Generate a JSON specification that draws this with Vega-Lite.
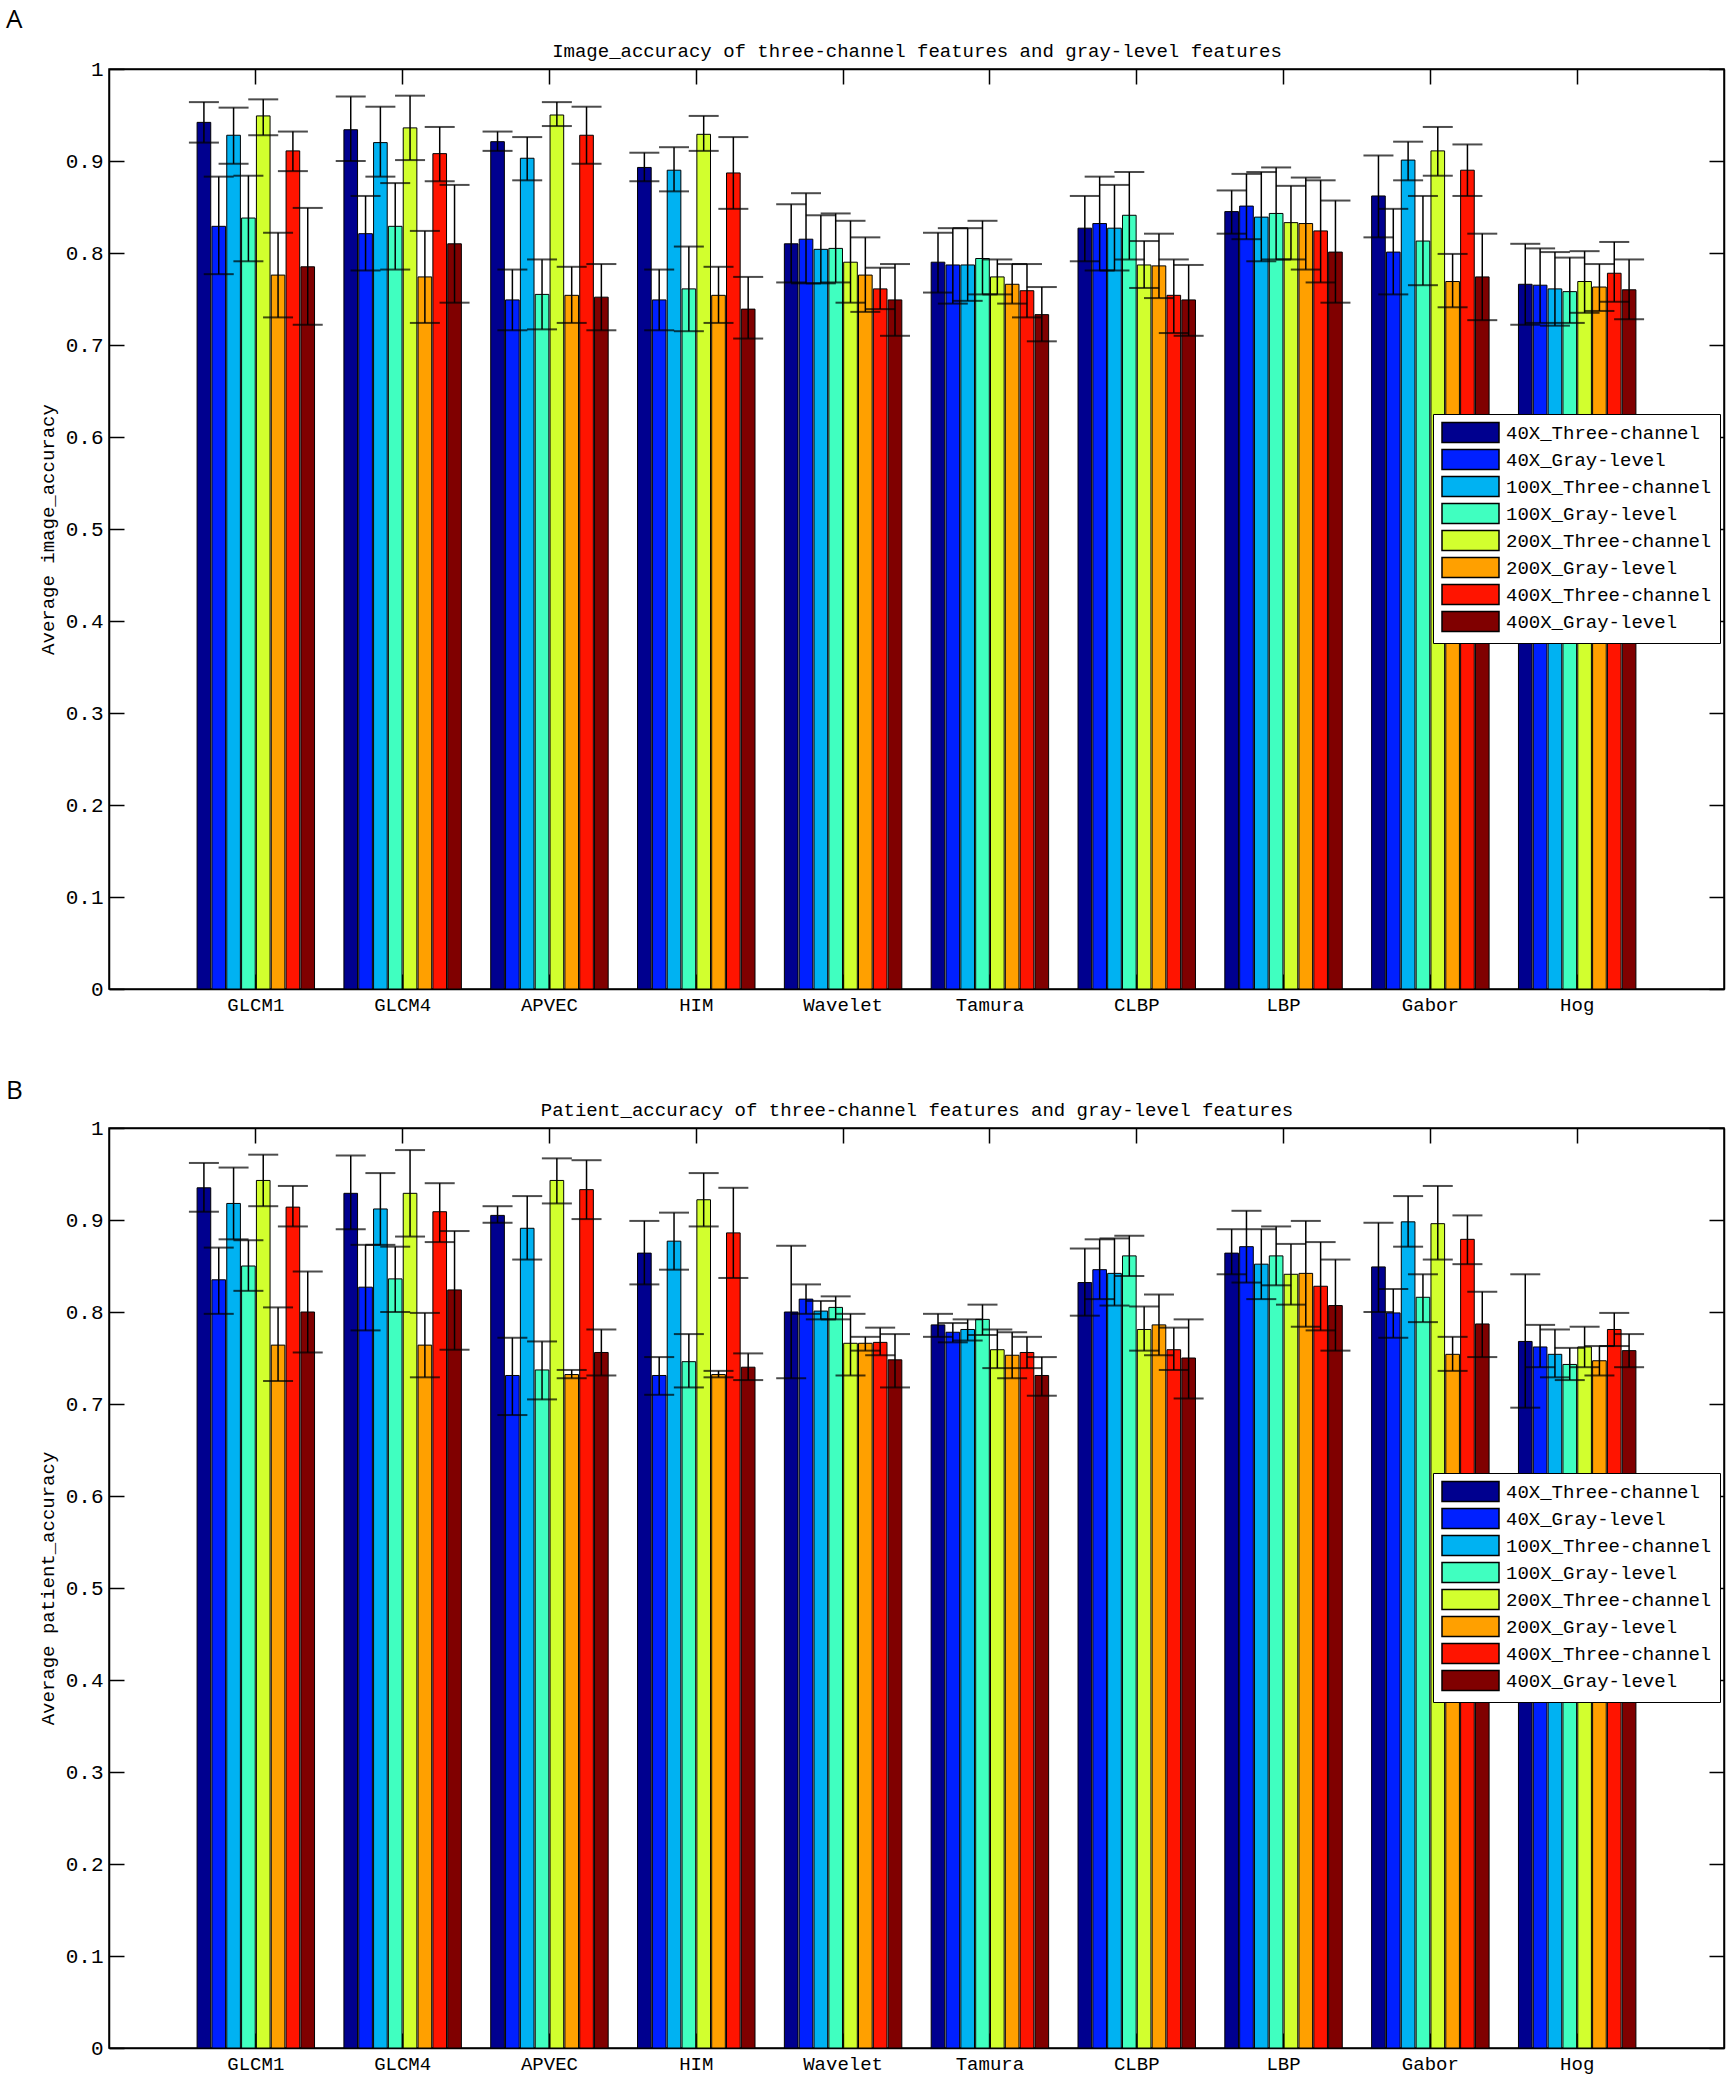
{
  "$schema": "https://vega.github.io/schema/vega-lite/v6.json",
  "background": "white",
  "padding": {"left": 5, "top": 6, "right": 0, "bottom": 0},
  "datasets": {
    "image": [
      {"feature": "GLCM1", "series": "40X_Three-channel", "acc": 0.942, "lo": 0.920, "hi": 0.964},
      {"feature": "GLCM1", "series": "40X_Gray-level", "acc": 0.829, "lo": 0.777, "hi": 0.883},
      {"feature": "GLCM1", "series": "100X_Three-channel", "acc": 0.928, "lo": 0.897, "hi": 0.958},
      {"feature": "GLCM1", "series": "100X_Gray-level", "acc": 0.838, "lo": 0.791, "hi": 0.884},
      {"feature": "GLCM1", "series": "200X_Three-channel", "acc": 0.949, "lo": 0.928, "hi": 0.967},
      {"feature": "GLCM1", "series": "200X_Gray-level", "acc": 0.776, "lo": 0.730, "hi": 0.822},
      {"feature": "GLCM1", "series": "400X_Three-channel", "acc": 0.911, "lo": 0.889, "hi": 0.932},
      {"feature": "GLCM1", "series": "400X_Gray-level", "acc": 0.785, "lo": 0.722, "hi": 0.849},
      {"feature": "GLCM4", "series": "40X_Three-channel", "acc": 0.934, "lo": 0.900, "hi": 0.970},
      {"feature": "GLCM4", "series": "40X_Gray-level", "acc": 0.821, "lo": 0.781, "hi": 0.862},
      {"feature": "GLCM4", "series": "100X_Three-channel", "acc": 0.920, "lo": 0.883, "hi": 0.959},
      {"feature": "GLCM4", "series": "100X_Gray-level", "acc": 0.829, "lo": 0.782, "hi": 0.876},
      {"feature": "GLCM4", "series": "200X_Three-channel", "acc": 0.936, "lo": 0.901, "hi": 0.971},
      {"feature": "GLCM4", "series": "200X_Gray-level", "acc": 0.774, "lo": 0.724, "hi": 0.824},
      {"feature": "GLCM4", "series": "400X_Three-channel", "acc": 0.908, "lo": 0.878, "hi": 0.937},
      {"feature": "GLCM4", "series": "400X_Gray-level", "acc": 0.810, "lo": 0.746, "hi": 0.874},
      {"feature": "APVEC", "series": "40X_Three-channel", "acc": 0.921, "lo": 0.911, "hi": 0.932},
      {"feature": "APVEC", "series": "40X_Gray-level", "acc": 0.749, "lo": 0.716, "hi": 0.782},
      {"feature": "APVEC", "series": "100X_Three-channel", "acc": 0.903, "lo": 0.879, "hi": 0.926},
      {"feature": "APVEC", "series": "100X_Gray-level", "acc": 0.755, "lo": 0.717, "hi": 0.793},
      {"feature": "APVEC", "series": "200X_Three-channel", "acc": 0.950, "lo": 0.938, "hi": 0.964},
      {"feature": "APVEC", "series": "200X_Gray-level", "acc": 0.754, "lo": 0.724, "hi": 0.785},
      {"feature": "APVEC", "series": "400X_Three-channel", "acc": 0.928, "lo": 0.897, "hi": 0.959},
      {"feature": "APVEC", "series": "400X_Gray-level", "acc": 0.752, "lo": 0.716, "hi": 0.788},
      {"feature": "HIM", "series": "40X_Three-channel", "acc": 0.893, "lo": 0.878, "hi": 0.909},
      {"feature": "HIM", "series": "40X_Gray-level", "acc": 0.749, "lo": 0.716, "hi": 0.782},
      {"feature": "HIM", "series": "100X_Three-channel", "acc": 0.890, "lo": 0.867, "hi": 0.915},
      {"feature": "HIM", "series": "100X_Gray-level", "acc": 0.761, "lo": 0.715, "hi": 0.807},
      {"feature": "HIM", "series": "200X_Three-channel", "acc": 0.929, "lo": 0.911, "hi": 0.949},
      {"feature": "HIM", "series": "200X_Gray-level", "acc": 0.754, "lo": 0.724, "hi": 0.785},
      {"feature": "HIM", "series": "400X_Three-channel", "acc": 0.887, "lo": 0.848, "hi": 0.926},
      {"feature": "HIM", "series": "400X_Gray-level", "acc": 0.739, "lo": 0.707, "hi": 0.774},
      {"feature": "Wavelet", "series": "40X_Three-channel", "acc": 0.810, "lo": 0.768, "hi": 0.853},
      {"feature": "Wavelet", "series": "40X_Gray-level", "acc": 0.815, "lo": 0.767, "hi": 0.865},
      {"feature": "Wavelet", "series": "100X_Three-channel", "acc": 0.804, "lo": 0.767, "hi": 0.841},
      {"feature": "Wavelet", "series": "100X_Gray-level", "acc": 0.805, "lo": 0.768, "hi": 0.843},
      {"feature": "Wavelet", "series": "200X_Three-channel", "acc": 0.790, "lo": 0.746, "hi": 0.835},
      {"feature": "Wavelet", "series": "200X_Gray-level", "acc": 0.776, "lo": 0.736, "hi": 0.817},
      {"feature": "Wavelet", "series": "400X_Three-channel", "acc": 0.761, "lo": 0.739, "hi": 0.784},
      {"feature": "Wavelet", "series": "400X_Gray-level", "acc": 0.749, "lo": 0.710, "hi": 0.788},
      {"feature": "Tamura", "series": "40X_Three-channel", "acc": 0.790, "lo": 0.757, "hi": 0.822},
      {"feature": "Tamura", "series": "40X_Gray-level", "acc": 0.787, "lo": 0.745, "hi": 0.827},
      {"feature": "Tamura", "series": "100X_Three-channel", "acc": 0.787, "lo": 0.748, "hi": 0.827},
      {"feature": "Tamura", "series": "100X_Gray-level", "acc": 0.794, "lo": 0.755, "hi": 0.835},
      {"feature": "Tamura", "series": "200X_Three-channel", "acc": 0.774, "lo": 0.755, "hi": 0.793},
      {"feature": "Tamura", "series": "200X_Gray-level", "acc": 0.766, "lo": 0.745, "hi": 0.788},
      {"feature": "Tamura", "series": "400X_Three-channel", "acc": 0.759, "lo": 0.730, "hi": 0.788},
      {"feature": "Tamura", "series": "400X_Gray-level", "acc": 0.733, "lo": 0.704, "hi": 0.763},
      {"feature": "CLBP", "series": "40X_Three-channel", "acc": 0.827, "lo": 0.791, "hi": 0.862},
      {"feature": "CLBP", "series": "40X_Gray-level", "acc": 0.832, "lo": 0.781, "hi": 0.883},
      {"feature": "CLBP", "series": "100X_Three-channel", "acc": 0.827, "lo": 0.781, "hi": 0.874},
      {"feature": "CLBP", "series": "100X_Gray-level", "acc": 0.841, "lo": 0.793, "hi": 0.888},
      {"feature": "CLBP", "series": "200X_Three-channel", "acc": 0.787, "lo": 0.762, "hi": 0.813},
      {"feature": "CLBP", "series": "200X_Gray-level", "acc": 0.786, "lo": 0.751, "hi": 0.821},
      {"feature": "CLBP", "series": "400X_Three-channel", "acc": 0.754, "lo": 0.713, "hi": 0.793},
      {"feature": "CLBP", "series": "400X_Gray-level", "acc": 0.749, "lo": 0.710, "hi": 0.787},
      {"feature": "LBP", "series": "40X_Three-channel", "acc": 0.845, "lo": 0.821, "hi": 0.868},
      {"feature": "LBP", "series": "40X_Gray-level", "acc": 0.851, "lo": 0.815, "hi": 0.886},
      {"feature": "LBP", "series": "100X_Three-channel", "acc": 0.839, "lo": 0.791, "hi": 0.888},
      {"feature": "LBP", "series": "100X_Gray-level", "acc": 0.843, "lo": 0.793, "hi": 0.893},
      {"feature": "LBP", "series": "200X_Three-channel", "acc": 0.833, "lo": 0.793, "hi": 0.873},
      {"feature": "LBP", "series": "200X_Gray-level", "acc": 0.832, "lo": 0.782, "hi": 0.882},
      {"feature": "LBP", "series": "400X_Three-channel", "acc": 0.824, "lo": 0.768, "hi": 0.879},
      {"feature": "LBP", "series": "400X_Gray-level", "acc": 0.801, "lo": 0.746, "hi": 0.857},
      {"feature": "Gabor", "series": "40X_Three-channel", "acc": 0.862, "lo": 0.817, "hi": 0.906},
      {"feature": "Gabor", "series": "40X_Gray-level", "acc": 0.801, "lo": 0.755, "hi": 0.848},
      {"feature": "Gabor", "series": "100X_Three-channel", "acc": 0.901, "lo": 0.879, "hi": 0.921},
      {"feature": "Gabor", "series": "100X_Gray-level", "acc": 0.813, "lo": 0.765, "hi": 0.862},
      {"feature": "Gabor", "series": "200X_Three-channel", "acc": 0.911, "lo": 0.884, "hi": 0.937},
      {"feature": "Gabor", "series": "200X_Gray-level", "acc": 0.769, "lo": 0.741, "hi": 0.799},
      {"feature": "Gabor", "series": "400X_Three-channel", "acc": 0.890, "lo": 0.862, "hi": 0.918},
      {"feature": "Gabor", "series": "400X_Gray-level", "acc": 0.774, "lo": 0.727, "hi": 0.821},
      {"feature": "Hog", "series": "40X_Three-channel", "acc": 0.766, "lo": 0.722, "hi": 0.810},
      {"feature": "Hog", "series": "40X_Gray-level", "acc": 0.765, "lo": 0.724, "hi": 0.805},
      {"feature": "Hog", "series": "100X_Three-channel", "acc": 0.761, "lo": 0.721, "hi": 0.801},
      {"feature": "Hog", "series": "100X_Gray-level", "acc": 0.758, "lo": 0.724, "hi": 0.795},
      {"feature": "Hog", "series": "200X_Three-channel", "acc": 0.769, "lo": 0.735, "hi": 0.802},
      {"feature": "Hog", "series": "200X_Gray-level", "acc": 0.763, "lo": 0.737, "hi": 0.788},
      {"feature": "Hog", "series": "400X_Three-channel", "acc": 0.778, "lo": 0.747, "hi": 0.812},
      {"feature": "Hog", "series": "400X_Gray-level", "acc": 0.760, "lo": 0.728, "hi": 0.793}
    ],
    "patient": [
      {"feature": "GLCM1", "series": "40X_Three-channel", "acc": 0.935, "lo": 0.909, "hi": 0.962},
      {"feature": "GLCM1", "series": "40X_Gray-level", "acc": 0.835, "lo": 0.798, "hi": 0.870},
      {"feature": "GLCM1", "series": "100X_Three-channel", "acc": 0.918, "lo": 0.879, "hi": 0.957},
      {"feature": "GLCM1", "series": "100X_Gray-level", "acc": 0.850, "lo": 0.823, "hi": 0.878},
      {"feature": "GLCM1", "series": "200X_Three-channel", "acc": 0.943, "lo": 0.915, "hi": 0.971},
      {"feature": "GLCM1", "series": "200X_Gray-level", "acc": 0.764, "lo": 0.725, "hi": 0.805},
      {"feature": "GLCM1", "series": "400X_Three-channel", "acc": 0.914, "lo": 0.893, "hi": 0.937},
      {"feature": "GLCM1", "series": "400X_Gray-level", "acc": 0.800, "lo": 0.756, "hi": 0.844},
      {"feature": "GLCM4", "series": "40X_Three-channel", "acc": 0.929, "lo": 0.890, "hi": 0.970},
      {"feature": "GLCM4", "series": "40X_Gray-level", "acc": 0.827, "lo": 0.780, "hi": 0.873},
      {"feature": "GLCM4", "series": "100X_Three-channel", "acc": 0.912, "lo": 0.873, "hi": 0.951},
      {"feature": "GLCM4", "series": "100X_Gray-level", "acc": 0.836, "lo": 0.800, "hi": 0.871},
      {"feature": "GLCM4", "series": "200X_Three-channel", "acc": 0.929, "lo": 0.882, "hi": 0.976},
      {"feature": "GLCM4", "series": "200X_Gray-level", "acc": 0.764, "lo": 0.729, "hi": 0.799},
      {"feature": "GLCM4", "series": "400X_Three-channel", "acc": 0.909, "lo": 0.876, "hi": 0.940},
      {"feature": "GLCM4", "series": "400X_Gray-level", "acc": 0.824, "lo": 0.759, "hi": 0.888},
      {"feature": "APVEC", "series": "40X_Three-channel", "acc": 0.905, "lo": 0.897, "hi": 0.915},
      {"feature": "APVEC", "series": "40X_Gray-level", "acc": 0.731, "lo": 0.688, "hi": 0.772},
      {"feature": "APVEC", "series": "100X_Three-channel", "acc": 0.891, "lo": 0.857, "hi": 0.926},
      {"feature": "APVEC", "series": "100X_Gray-level", "acc": 0.737, "lo": 0.705, "hi": 0.768},
      {"feature": "APVEC", "series": "200X_Three-channel", "acc": 0.943, "lo": 0.918, "hi": 0.967},
      {"feature": "APVEC", "series": "200X_Gray-level", "acc": 0.732, "lo": 0.728, "hi": 0.737},
      {"feature": "APVEC", "series": "400X_Three-channel", "acc": 0.933, "lo": 0.901, "hi": 0.965},
      {"feature": "APVEC", "series": "400X_Gray-level", "acc": 0.756, "lo": 0.731, "hi": 0.781},
      {"feature": "HIM", "series": "40X_Three-channel", "acc": 0.864, "lo": 0.830, "hi": 0.899},
      {"feature": "HIM", "series": "40X_Gray-level", "acc": 0.731, "lo": 0.710, "hi": 0.751},
      {"feature": "HIM", "series": "100X_Three-channel", "acc": 0.877, "lo": 0.846, "hi": 0.908},
      {"feature": "HIM", "series": "100X_Gray-level", "acc": 0.746, "lo": 0.718, "hi": 0.776},
      {"feature": "HIM", "series": "200X_Three-channel", "acc": 0.922, "lo": 0.893, "hi": 0.951},
      {"feature": "HIM", "series": "200X_Gray-level", "acc": 0.732, "lo": 0.729, "hi": 0.736},
      {"feature": "HIM", "series": "400X_Three-channel", "acc": 0.886, "lo": 0.837, "hi": 0.935},
      {"feature": "HIM", "series": "400X_Gray-level", "acc": 0.740, "lo": 0.726, "hi": 0.755},
      {"feature": "Wavelet", "series": "40X_Three-channel", "acc": 0.800, "lo": 0.728, "hi": 0.872},
      {"feature": "Wavelet", "series": "40X_Gray-level", "acc": 0.814, "lo": 0.798, "hi": 0.830},
      {"feature": "Wavelet", "series": "100X_Three-channel", "acc": 0.801, "lo": 0.792, "hi": 0.812},
      {"feature": "Wavelet", "series": "100X_Gray-level", "acc": 0.805, "lo": 0.792, "hi": 0.817},
      {"feature": "Wavelet", "series": "200X_Three-channel", "acc": 0.766, "lo": 0.731, "hi": 0.798},
      {"feature": "Wavelet", "series": "200X_Gray-level", "acc": 0.766, "lo": 0.758, "hi": 0.773},
      {"feature": "Wavelet", "series": "400X_Three-channel", "acc": 0.767, "lo": 0.753, "hi": 0.783},
      {"feature": "Wavelet", "series": "400X_Gray-level", "acc": 0.748, "lo": 0.718, "hi": 0.776},
      {"feature": "Tamura", "series": "40X_Three-channel", "acc": 0.786, "lo": 0.773, "hi": 0.798},
      {"feature": "Tamura", "series": "40X_Gray-level", "acc": 0.778, "lo": 0.767, "hi": 0.788},
      {"feature": "Tamura", "series": "100X_Three-channel", "acc": 0.781, "lo": 0.769, "hi": 0.792},
      {"feature": "Tamura", "series": "100X_Gray-level", "acc": 0.792, "lo": 0.775, "hi": 0.808},
      {"feature": "Tamura", "series": "200X_Three-channel", "acc": 0.759, "lo": 0.739, "hi": 0.781},
      {"feature": "Tamura", "series": "200X_Gray-level", "acc": 0.753, "lo": 0.728, "hi": 0.778},
      {"feature": "Tamura", "series": "400X_Three-channel", "acc": 0.756, "lo": 0.739, "hi": 0.773},
      {"feature": "Tamura", "series": "400X_Gray-level", "acc": 0.731, "lo": 0.709, "hi": 0.751},
      {"feature": "CLBP", "series": "40X_Three-channel", "acc": 0.832, "lo": 0.796, "hi": 0.869},
      {"feature": "CLBP", "series": "40X_Gray-level", "acc": 0.846, "lo": 0.814, "hi": 0.879},
      {"feature": "CLBP", "series": "100X_Three-channel", "acc": 0.842, "lo": 0.807, "hi": 0.880},
      {"feature": "CLBP", "series": "100X_Gray-level", "acc": 0.861, "lo": 0.839, "hi": 0.883},
      {"feature": "CLBP", "series": "200X_Three-channel", "acc": 0.781, "lo": 0.758, "hi": 0.806},
      {"feature": "CLBP", "series": "200X_Gray-level", "acc": 0.786, "lo": 0.753, "hi": 0.819},
      {"feature": "CLBP", "series": "400X_Three-channel", "acc": 0.759, "lo": 0.737, "hi": 0.783},
      {"feature": "CLBP", "series": "400X_Gray-level", "acc": 0.750, "lo": 0.706, "hi": 0.792},
      {"feature": "LBP", "series": "40X_Three-channel", "acc": 0.864, "lo": 0.841, "hi": 0.890},
      {"feature": "LBP", "series": "40X_Gray-level", "acc": 0.871, "lo": 0.832, "hi": 0.910},
      {"feature": "LBP", "series": "100X_Three-channel", "acc": 0.852, "lo": 0.814, "hi": 0.890},
      {"feature": "LBP", "series": "100X_Gray-level", "acc": 0.861, "lo": 0.829, "hi": 0.893},
      {"feature": "LBP", "series": "200X_Three-channel", "acc": 0.841, "lo": 0.808, "hi": 0.874},
      {"feature": "LBP", "series": "200X_Gray-level", "acc": 0.842, "lo": 0.784, "hi": 0.899},
      {"feature": "LBP", "series": "400X_Three-channel", "acc": 0.828, "lo": 0.780, "hi": 0.876},
      {"feature": "LBP", "series": "400X_Gray-level", "acc": 0.807, "lo": 0.758, "hi": 0.857},
      {"feature": "Gabor", "series": "40X_Three-channel", "acc": 0.849, "lo": 0.800, "hi": 0.897},
      {"feature": "Gabor", "series": "40X_Gray-level", "acc": 0.799, "lo": 0.772, "hi": 0.825},
      {"feature": "Gabor", "series": "100X_Three-channel", "acc": 0.898, "lo": 0.871, "hi": 0.926},
      {"feature": "Gabor", "series": "100X_Gray-level", "acc": 0.816, "lo": 0.789, "hi": 0.841},
      {"feature": "Gabor", "series": "200X_Three-channel", "acc": 0.896, "lo": 0.857, "hi": 0.937},
      {"feature": "Gabor", "series": "200X_Gray-level", "acc": 0.754, "lo": 0.736, "hi": 0.773},
      {"feature": "Gabor", "series": "400X_Three-channel", "acc": 0.879, "lo": 0.852, "hi": 0.905},
      {"feature": "Gabor", "series": "400X_Gray-level", "acc": 0.787, "lo": 0.751, "hi": 0.822},
      {"feature": "Hog", "series": "40X_Three-channel", "acc": 0.768, "lo": 0.696, "hi": 0.841},
      {"feature": "Hog", "series": "40X_Gray-level", "acc": 0.762, "lo": 0.740, "hi": 0.786},
      {"feature": "Hog", "series": "100X_Three-channel", "acc": 0.754, "lo": 0.729, "hi": 0.781},
      {"feature": "Hog", "series": "100X_Gray-level", "acc": 0.743, "lo": 0.726, "hi": 0.761},
      {"feature": "Hog", "series": "200X_Three-channel", "acc": 0.762, "lo": 0.740, "hi": 0.784},
      {"feature": "Hog", "series": "200X_Gray-level", "acc": 0.747, "lo": 0.731, "hi": 0.763},
      {"feature": "Hog", "series": "400X_Three-channel", "acc": 0.781, "lo": 0.763, "hi": 0.799},
      {"feature": "Hog", "series": "400X_Gray-level", "acc": 0.758, "lo": 0.740, "hi": 0.776}
    ]
  },
  "spacing": 62,
  "resolve": {"legend": {"color": "independent"}},
  "vconcat": [
    {
      "title": {"text": "A", "anchor": "start", "frame": "group", "dx": -103, "offset": 8},
      "width": 1615,
      "height": 920,
      "data": {"name": "image"},
      "resolve": {"axis": {"x": "independent", "y": "independent"}},
      "layer": [
        {
          "mark": {"type": "bar", "stroke": "black", "strokeWidth": 1},
          "encoding": {
            "x": {"field": "feature", "type": "nominal", "sort": null,
                  "scale": {"paddingInner": 0.2, "paddingOuter": 0.6},
                  "axis": {"orient": "bottom", "title": null, "labelAngle": 0, "labelFontSize": 19, "tickSize": -15, "labelPadding": 21}},
            "xOffset": {"field": "series", "type": "nominal", "sort": null, "scale": {"paddingInner": 0.08}},
            "y": {"field": "acc", "type": "quantitative", "scale": {"domain": [0, 1]},
                  "axis": {"orient": "left", "title": "Average image_accuracy", "values": [0, 0.1, 0.2, 0.3, 0.4, 0.5, 0.6, 0.7, 0.8, 0.9, 1], "format": "~g", "labelFontSize": 21, "tickSize": -15, "labelPadding": 21, "titlePadding": 8}},
            "color": {"field": "series", "type": "nominal", "sort": null,
                      "scale": {"domain": ["40X_Three-channel", "40X_Gray-level", "100X_Three-channel", "100X_Gray-level", "200X_Three-channel", "200X_Gray-level", "400X_Three-channel", "400X_Gray-level"],
                                "range": ["#00008F", "#0020FF", "#00B2F2", "#40FFC0", "#D2FF2E", "#FFA000", "#FF1400", "#800000"]},
                      "legend": {"title": null}}
          }
        },
        {
          "mark": {"type": "rule", "color": "black", "strokeWidth": 1.5},
          "encoding": {
            "x": {"field": "feature", "type": "nominal", "sort": null,
                  "axis": {"orient": "top", "labels": false, "tickSize": -15, "title": "Image_accuracy of three-channel features and gray-level features", "titlePadding": 8}},
            "xOffset": {"field": "series", "type": "nominal", "sort": null},
            "y": {"field": "lo", "type": "quantitative",
                  "axis": {"orient": "right", "labels": false, "title": null, "values": [0, 0.1, 0.2, 0.3, 0.4, 0.5, 0.6, 0.7, 0.8, 0.9, 1], "tickSize": -15}},
            "y2": {"field": "hi"}
          }
        },
        {
          "mark": {"type": "tick", "color": "black", "orient": "horizontal", "size": 30, "thickness": 2},
          "encoding": {
            "x": {"field": "feature", "type": "nominal", "sort": null, "axis": null},
            "xOffset": {"field": "series", "type": "nominal", "sort": null},
            "y": {"field": "lo", "type": "quantitative", "axis": null}
          }
        },
        {
          "mark": {"type": "tick", "color": "black", "orient": "horizontal", "size": 30, "thickness": 2},
          "encoding": {
            "x": {"field": "feature", "type": "nominal", "sort": null, "axis": null},
            "xOffset": {"field": "series", "type": "nominal", "sort": null},
            "y": {"field": "hi", "type": "quantitative", "axis": null}
          }
        }
      ]
    },
    {
      "title": {"text": "B", "anchor": "start", "frame": "group", "dx": -103, "offset": -4},
      "width": 1615,
      "height": 920,
      "data": {"name": "patient"},
      "resolve": {"axis": {"x": "independent", "y": "independent"}},
      "layer": [
        {
          "mark": {"type": "bar", "stroke": "black", "strokeWidth": 1},
          "encoding": {
            "x": {"field": "feature", "type": "nominal", "sort": null,
                  "scale": {"paddingInner": 0.2, "paddingOuter": 0.6},
                  "axis": {"orient": "bottom", "title": null, "labelAngle": 0, "labelFontSize": 19, "tickSize": -15, "labelPadding": 21}},
            "xOffset": {"field": "series", "type": "nominal", "sort": null, "scale": {"paddingInner": 0.08}},
            "y": {"field": "acc", "type": "quantitative", "scale": {"domain": [0, 1]},
                  "axis": {"orient": "left", "title": "Average patient_accuracy", "values": [0, 0.1, 0.2, 0.3, 0.4, 0.5, 0.6, 0.7, 0.8, 0.9, 1], "format": "~g", "labelFontSize": 21, "tickSize": -15, "labelPadding": 21, "titlePadding": 8}},
            "color": {"field": "series", "type": "nominal", "sort": null,
                      "scale": {"domain": ["40X_Three-channel", "40X_Gray-level", "100X_Three-channel", "100X_Gray-level", "200X_Three-channel", "200X_Gray-level", "400X_Three-channel", "400X_Gray-level"],
                                "range": ["#00008F", "#0020FF", "#00B2F2", "#40FFC0", "#D2FF2E", "#FFA000", "#FF1400", "#800000"]},
                      "legend": {"title": null}}
          }
        },
        {
          "mark": {"type": "rule", "color": "black", "strokeWidth": 1.5},
          "encoding": {
            "x": {"field": "feature", "type": "nominal", "sort": null,
                  "axis": {"orient": "top", "labels": false, "tickSize": -15, "title": "Patient_accuracy of three-channel features and gray-level features", "titlePadding": 8}},
            "xOffset": {"field": "series", "type": "nominal", "sort": null},
            "y": {"field": "lo", "type": "quantitative",
                  "axis": {"orient": "right", "labels": false, "title": null, "values": [0, 0.1, 0.2, 0.3, 0.4, 0.5, 0.6, 0.7, 0.8, 0.9, 1], "tickSize": -15}},
            "y2": {"field": "hi"}
          }
        },
        {
          "mark": {"type": "tick", "color": "black", "orient": "horizontal", "size": 30, "thickness": 2},
          "encoding": {
            "x": {"field": "feature", "type": "nominal", "sort": null, "axis": null},
            "xOffset": {"field": "series", "type": "nominal", "sort": null},
            "y": {"field": "lo", "type": "quantitative", "axis": null}
          }
        },
        {
          "mark": {"type": "tick", "color": "black", "orient": "horizontal", "size": 30, "thickness": 2},
          "encoding": {
            "x": {"field": "feature", "type": "nominal", "sort": null, "axis": null},
            "xOffset": {"field": "series", "type": "nominal", "sort": null},
            "y": {"field": "hi", "type": "quantitative", "axis": null}
          }
        }
      ]
    }
  ],
  "config": {
    "font": "Liberation Mono",
    "view": {"stroke": "black", "strokeWidth": 1.5},
    "title": {"font": "Open Sans", "fontSize": 26, "fontWeight": "normal", "color": "black"},
    "axis": {
      "grid": false,
      "zindex": 1,
      "domainColor": "black",
      "domainWidth": 1.5,
      "tickColor": "black",
      "tickWidth": 1.5,
      "labelColor": "black",
      "titleColor": "black",
      "labelFont": "Liberation Mono",
      "titleFont": "Liberation Mono",
      "labelFontSize": 19,
      "titleFontSize": 19,
      "titleFontWeight": "normal"
    },
    "legend": {
      "orient": "none",
      "legendX": 1324,
      "legendY": 345,
      "fillColor": "white",
      "strokeColor": "black",
      "padding": 8,
      "cornerRadius": 0,
      "symbolType": "M-3,-1.05H3V1.05H-3Z",
      "symbolSize": 361,
      "symbolOffset": 19,
      "symbolStrokeColor": "black",
      "symbolStrokeWidth": 1.5,
      "symbolOpacity": 1,
      "labelFont": "Liberation Mono",
      "labelFontSize": 19,
      "labelColor": "black",
      "labelOffset": 25,
      "labelLimit": 400,
      "rowPadding": 0
    }
  }
}
